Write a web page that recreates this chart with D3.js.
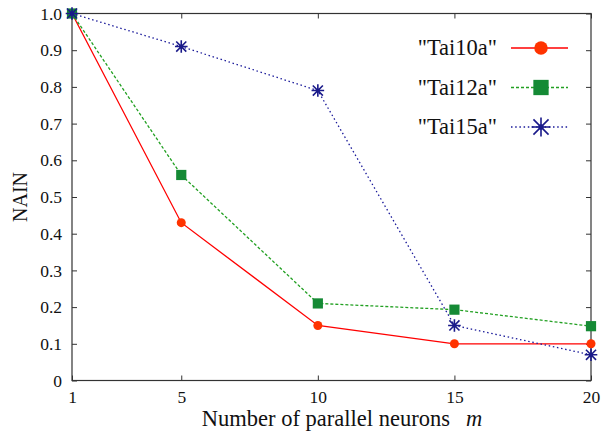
<html>
<head>
    <meta charset="UTF-8" />
    <script src="https://d3js.org/d3.v7.min.js"></script>
    <style>
        body { margin: 0; background: white; }
        .axis .domain { stroke: none; }
        .axis line { stroke: #333; }
    </style>
</head>
<body>
    <svg id="svg" width="602" height="437"></svg>
    <script>
        // data
        const neurons = [1, 5, 10, 15, 20];
        const tai10a = [1.0, 0.43, 0.15, 0.10, 0.10];
        const tai12a = [1.0, 0.56, 0.21, 0.193, 0.148];
        const tai15a = [1.0, 0.91, 0.79, 0.15, 0.07];
        const seriesNames = ['"Tai10a"', '"Tai12a"', '"Tai15a"'];
        const yTicks = [0, 0.1, 0.2, 0.3, 0.4, 0.5, 0.6, 0.7, 0.8, 0.9, 1.0];

        const serif = "Liberation Serif";

        const svg = d3.select("svg#svg");
        const margin = {top: 13.5, right: 11, bottom: 56.5, left: 72};
        const width = +svg.attr("width");
        const height = +svg.attr("height");
        const chartWidth = width - margin.left - margin.right;
        const chartHeight = height - margin.top - margin.bottom;

        const xScale = d3.scaleLinear().domain([1, 20]).range([0, chartWidth]);
        const yScale = d3.scaleLinear().domain([0, 1]).range([chartHeight, 0]);

        const chart = svg.append("g")
            .attr("transform", "translate(" + margin.left + "," + margin.top + ")");

        // ticks pointing inward on all four sides
        const tickLen = 5;
        chart.append("g").attr("class", "axis")
            .call(d3.axisLeft(yScale).tickValues(yTicks).tickSize(-tickLen).tickPadding(10)
                .tickFormat(d => d === 0 ? "0" : d3.format(".1f")(d)))
            .selectAll("text").attr("font-size", 17.5).attr("font-family", serif).attr("fill", "#111");
        chart.append("g").attr("class", "axis")
            .attr("transform", "translate(" + chartWidth + ",0)")
            .call(d3.axisRight(yScale).tickValues(yTicks).tickSize(-tickLen).tickFormat(""));
        chart.append("g").attr("class", "axis")
            .attr("transform", "translate(0," + chartHeight + ")")
            .call(d3.axisBottom(xScale).tickValues(neurons).tickSize(-tickLen).tickPadding(10)
                .tickFormat(d3.format("d")))
            .selectAll("text").attr("font-size", 17.5).attr("font-family", serif).attr("fill", "#111");
        chart.append("g").attr("class", "axis")
            .call(d3.axisTop(xScale).tickValues(neurons).tickSize(-tickLen).tickFormat(""));

        chart.append("rect")
            .attr("width", chartWidth).attr("height", chartHeight)
            .attr("fill", "none").attr("stroke", "#333").attr("stroke-width", 1.2);

        const series = [
            {name: seriesNames[0], values: tai10a, color: "#ff0000", mark: "#ff3300", dash: null, shape: "circle"},
            {name: seriesNames[1], values: tai12a, color: "#22a022", mark: "#158a35", dash: "3,2", shape: "square"},
            {name: seriesNames[2], values: tai15a, color: "#1a1a9a", mark: "#1a1a8a", dash: "1.5,2.7", shape: "star"}
        ];

        const line = d3.line().x((d, i) => xScale(neurons[i])).y(d => yScale(d));

        function drawMark(g, s, x, y, size) {
            if (s.shape === "circle") {
                g.append("circle").attr("cx", x).attr("cy", y).attr("r", size * 0.75).attr("fill", s.mark);
            } else if (s.shape === "square") {
                g.append("rect").attr("x", x - size * 0.85).attr("y", y - size * 0.85)
                    .attr("width", size * 1.7).attr("height", size * 1.7)
                    .attr("fill", s.mark);
            } else {
                const r = size * 1.05;
                const p = "M" + (x - r) + "," + y + "H" + (x + r)
                    + "M" + x + "," + (y - r) + "V" + (y + r)
                    + "M" + (x - r * 0.8) + "," + (y - r * 0.8) + "L" + (x + r * 0.8) + "," + (y + r * 0.8)
                    + "M" + (x - r * 0.8) + "," + (y + r * 0.8) + "L" + (x + r * 0.8) + "," + (y - r * 0.8);
                g.append("path").attr("d", p).attr("stroke", s.mark).attr("stroke-width", 1.6).attr("fill", "none");
                g.append("circle").attr("cx", x).attr("cy", y).attr("r", size * 0.3).attr("fill", s.mark);
            }
        }

        series.forEach((s, k) => {
            chart.append("path")
                .attr("d", line(s.values))
                .attr("fill", "none")
                .attr("stroke", s.color)
                .attr("stroke-width", 1.3)
                .attr("stroke-dasharray", s.dash);
            const g = chart.append("g");
            s.values.forEach((v, i) => drawMark(g, s, xScale(neurons[i]), yScale(v), 6));

            // legend entry
            const ly = 48 + k * 39.5 - margin.top;
            const lx0 = 511 - margin.left, lx1 = 568 - margin.left;
            chart.append("text")
                .attr("x", 497 - margin.left).attr("y", ly)
                .attr("dy", "0.33em").attr("text-anchor", "end")
                .attr("font-size", 22.5).attr("font-family", serif).attr("fill", "#111")
                .text(s.name);
            chart.append("line")
                .attr("x1", lx0).attr("x2", lx1).attr("y1", ly).attr("y2", ly)
                .attr("stroke", s.color).attr("stroke-width", 1.3)
                .attr("stroke-dasharray", s.dash);
            const lg = chart.append("g");
            drawMark(lg, s, 541 - margin.left, ly, 9);
        });

        // axis labels
        svg.append("text")
            .attr("text-anchor", "middle")
            .attr("transform", "translate(27," + (margin.top + chartHeight / 2) + ") rotate(-90)")
            .attr("font-size", 20).attr("font-family", serif).attr("fill", "#111")
            .text("NAIN");

        const xl = svg.append("text")
            .attr("text-anchor", "middle")
            .attr("x", 342)
            .attr("y", 426)
            .attr("font-size", 22.5).attr("font-family", serif).attr("fill", "#111");
        xl.append("tspan").text("Number of parallel neurons");
        xl.append("tspan").attr("dx", 16).attr("font-style", "italic").text("m");
    </script>
</body>
</html>
